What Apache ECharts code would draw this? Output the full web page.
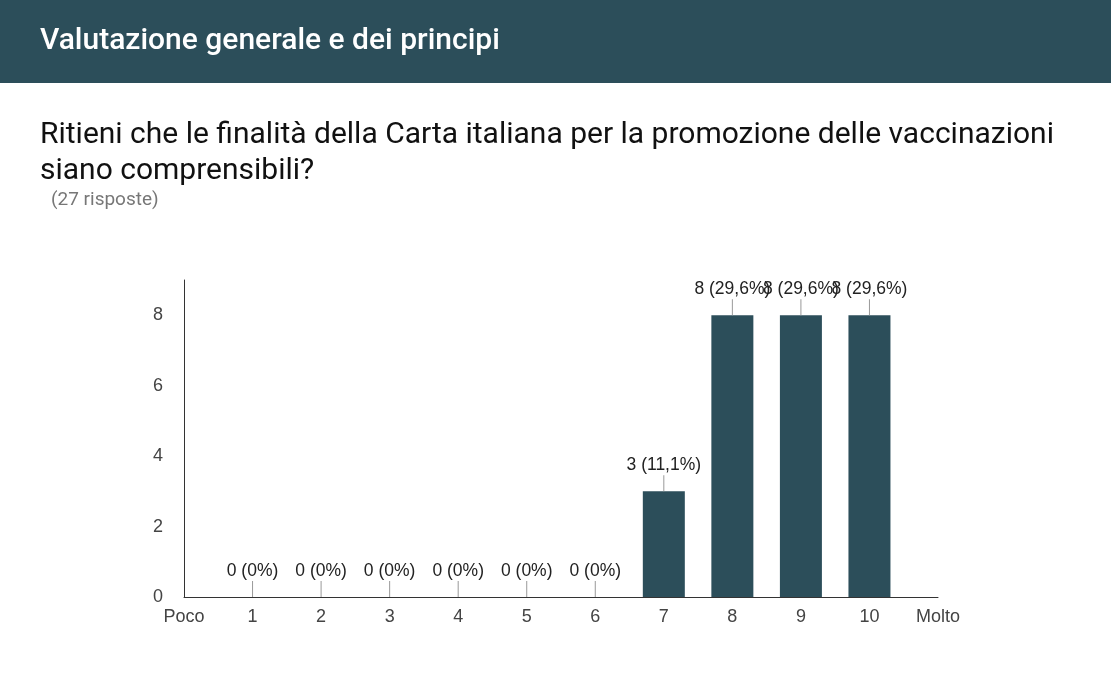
<!DOCTYPE html>
<html><head><meta charset="utf-8">
<script src="https://cdn.jsdelivr.net/npm/echarts@6/dist/echarts.min.js"></script>
<style>html,body{margin:0;padding:0;background:#fff}#c{width:1111px;height:677px}</style>
</head><body><div id="c"></div>
<script>
const headerTitle = 'Valutazione generale e dei principi';
const questionLines = ['Ritieni che le finalità della Carta italiana per la promozione delle vaccinazioni', 'siano comprensibili?'];
const responsesText = '(27 risposte)';
const categories = ['Poco','1','2','3','4','5','6','7','8','9','10','Molto'];
const counts = [null,0,0,0,0,0,0,3,8,8,8,null];
const percents = [null,'0%','0%','0%','0%','0%','0%','11,1%','29,6%','29,6%','29,6%',null];
const yTicks = [0,2,4,6,8];

const chart = echarts.init(document.getElementById('c'));
const dark = '#2c4e5a';
chart.setOption({
  animation: false,
  graphic: [
    {type:'rect', left:0, top:0, shape:{width:1111, height:83}, style:{fill:dark}},
    {type:'text', left:40, top:26, style:{text:headerTitle, fill:'#fff', font:'500 30px Roboto'}},
    {type:'text', left:40, top:117, style:{text:questionLines.join('\n'), fill:'#111', font:'30px Roboto', lineHeight:36}},
    {type:'text', left:51, top:191, style:{text:responsesText, fill:'#777', font:'19px Roboto'}}
  ],
  grid: {left:184, right:173, top:280, bottom:80},
  xAxis: {
    type:'category', data:categories, boundaryGap:false,
    axisLine:{lineStyle:{color:'#333', width:1}}, axisTick:{show:false},
    axisLabel:{color:'#444', fontSize:18, fontFamily:'Liberation Sans, Arial', margin:11, interval:0}
  },
  yAxis: {
    type:'value', min:0, max:9, interval:2,
    splitLine:{show:false},
    axisLine:{show:true, lineStyle:{color:'#333', width:1}}, axisTick:{show:false},
    axisLabel:{color:'#444', fontSize:18, fontFamily:'Liberation Sans, Arial', margin:21, showMaxLabel:false,
      formatter: v => yTicks.indexOf(v) >= 0 ? String(v) : ''}
  },
  series: [{
    type:'bar', data:counts, barWidth:42,
    itemStyle:{color:dark},
    label:{
      show:true, position:'top', distance:0,
      formatter: p => p.value == null ? '' : '{t|' + p.value + ' (' + percents[p.dataIndex] + ')}\n{l|}',
      rich:{
        t:{fontSize:17.5, fontFamily:'Liberation Sans, Arial', color:'#222', lineHeight:20},
        l:{width:1, height:16, backgroundColor:'#999'}
      }
    }
  }]
});
</script></body></html>
